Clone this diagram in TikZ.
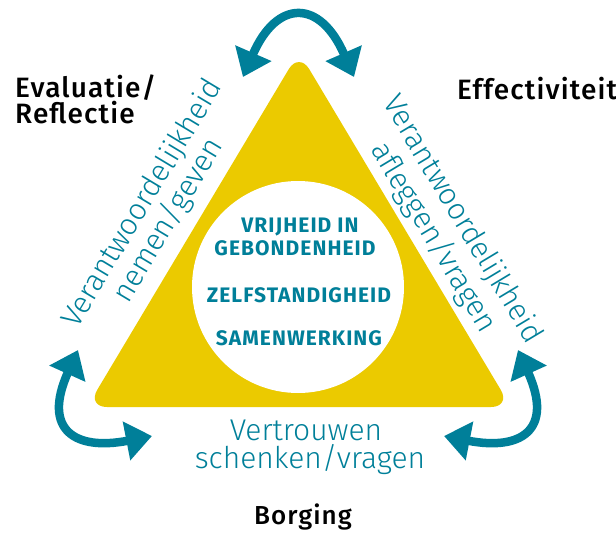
\documentclass[tikz,border=0pt]{standalone}
\usepackage{fontspec}
\setmainfont{Fira Sans}
\IfFontExistsTF{Fira Sans Light}{\newfontfamily\lightf{Fira Sans Light}}{\newfontfamily\lightf{Fira Sans}}
\IfFontExistsTF{Fira Sans Medium}{\newfontfamily\medf[LetterSpace=4]{Fira Sans Medium}}{\newfontfamily\medf[LetterSpace=4]{Fira Sans}}
\newfontfamily\boldf[LetterSpace=5]{Fira Sans Bold}
\usetikzlibrary{arrows.meta}
\definecolor{tealc}{RGB}{0,127,153}
\definecolor{goldc}{RGB}{235,202,0}
\begin{document}
\begin{tikzpicture}[x=1pt,y=-1pt,
  arr/.style={draw=tealc, line width=8.5pt,
    {Triangle[length=26pt,width=38pt]}-{Triangle[length=26pt,width=38pt]}},
  sidetxt/.style={text=tealc, font=\lightf\fontsize{30}{34}\selectfont, inner sep=0pt, anchor=base},
  coretxt/.style={text=tealc, font=\boldf\fontsize{21}{25}\selectfont, inner sep=0pt, anchor=base},
  cornertxt/.style={text=black, font=\medf\fontsize{28}{32}\selectfont, inner sep=0pt, anchor=base west}]
\useasboundingbox (0,0) rectangle (616,533);
% triangle and circle
\fill[goldc, rounded corners=20pt] (299,52) -- (511,407) -- (87,407) -- cycle;
\fill[white] (298,287) circle[radius=106];
% arrows
\coordinate (tl) at (243,77);
\coordinate (tr) at (354,77);
\draw[arr] (tl) .. controls (277,-1) and (320,-1) .. (tr);
\coordinate (bl1) at (78,350);
\coordinate (bl2) at (152,436);
\draw[arr] (bl1) .. controls (42,430) and (75,451) .. (bl2);
\coordinate (br1) at (518,350);
\coordinate (br2) at (444,436);
\draw[arr] (br1) .. controls (554,430) and (521,451) .. (br2);
% centre texts
\node[coretxt] (c1) at (300,232) {VRIJHEID IN};
\node[coretxt] (c2) at (295,255) {GEBONDENHEID};
\node[coretxt] (c3) at (299,302) {ZELFSTANDIGHEID};
\node[coretxt] (c4) at (299,345) {SAMENWERKING};
% side texts
\node[sidetxt, rotate=59] (l1) at (150,208) {Verantwoordelijkheid};
\node[sidetxt, rotate=59] (l2) at (176,225) {nemen/geven};
\node[sidetxt, rotate=-59] (r1) at (455,224) {Verantwoordelijkheid};
\node[sidetxt, rotate=-59] (r2) at (426,242) {afleggen/vragen};
\node[sidetxt] (b1) at (306,440) {Vertrouwen};
\node[sidetxt] (b2) at (310,468) {schenken/vragen};
% corner labels
\node[cornertxt] (ev) at (15,97) {Evaluatie/};
\node[cornertxt] (re) at (15,123) {Reflectie};
\node[cornertxt] (ef) at (457,99) {Effectiviteit};
\node[cornertxt, anchor=base, font=\medf\fontsize{26}{30}\selectfont] (bo) at (303,524) {Borging};
\end{tikzpicture}
\end{document}
